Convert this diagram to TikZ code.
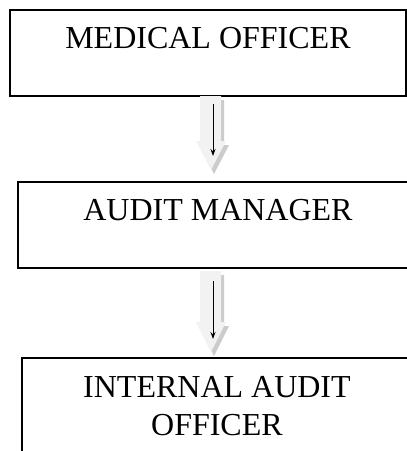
\documentclass[tikz,border=0pt]{standalone}
\usepackage{fontspec}
\setmainfont{Liberation Serif}
\usetikzlibrary{arrows.meta}

\tikzset{
  officebox/.style={draw, line width=1.9pt, inner sep=0pt, anchor=north west},
  officetext/.style={font=\fontsize{32}{38}\selectfont, align=center, inner sep=0pt, anchor=base},
  arrowbody/.style={fill=gray!10, draw=none},
  arrowshadow/.style={fill=gray!40, draw=none},
  thinarrow/.style={-{Stealth[length=7pt,width=5pt]}, line width=1pt}
}

\begin{document}
\begin{tikzpicture}[x=1pt,y=-1pt]
			\useasboundingbox (0,0) rectangle (407,451);
			\clip (0,0) rectangle (407,451);

			% boxes
			\node [officebox, minimum width=396pt, minimum height=86pt] (medical) at (9,9) {};
			\node [officebox, minimum width=400pt, minimum height=86pt] (manager) at (17,181) {};
			\node [officebox, minimum width=390pt, minimum height=120pt] (internal) at (21,357) {};

			\node [officetext] (medicaltext) at ([yshift=-39pt]medical.north) {MEDICAL OFFICER};
			\node [officetext] (managertext) at ([yshift=-39pt]manager.north) {AUDIT MANAGER};
			\node [officetext] (internaltext) at ([yshift=-78pt]internal.north) {INTERNAL AUDIT\\OFFICER};

			% block arrows
			\begin{scope}[shift={(3,4)}]
				\fill [arrowshadow] (200,96) -- (200,141) -- (196,141) -- (211,170) -- (226,141) -- (221,141) -- (221,96) -- cycle;
				\fill [arrowshadow] (200,271) -- (200,322) -- (196,322) -- (211,352) -- (226,322) -- (221,322) -- (221,271) -- cycle;
			\end{scope}
			\fill [arrowbody] (200,96) -- (200,141) -- (196,141) -- (211,170) -- (226,141) -- (221,141) -- (221,96) -- cycle;
			\fill [arrowbody] (200,271) -- (200,322) -- (196,322) -- (211,352) -- (226,322) -- (221,322) -- (221,271) -- cycle;

			\coordinate (arrowAstart) at (213,104);
			\coordinate (arrowAend) at (213,156);
			\coordinate (arrowBstart) at (213,281);
			\coordinate (arrowBend) at (213,339);

			\draw [thinarrow] (arrowAstart) -- (arrowAend);
			\draw [thinarrow] (arrowBstart) -- (arrowBend);

\end{tikzpicture}
\end{document}
